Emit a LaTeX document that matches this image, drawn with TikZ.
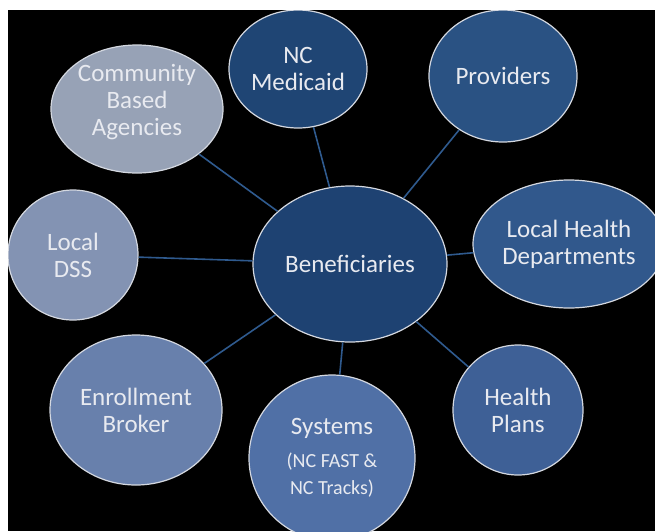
\documentclass[tikz,border=0pt]{standalone}
\usepackage{fontspec}
\setmainfont{Carlito}
\usetikzlibrary{shapes.geometric}

\definecolor{rimgray}{HTML}{D4D8E0}
\definecolor{labelwhite}{HTML}{E8EAF0}
\definecolor{linkblue}{HTML}{2F5A8E}
\definecolor{cbaFill}{HTML}{97A2B6}
\definecolor{ncmFill}{HTML}{1F4574}
\definecolor{provFill}{HTML}{2A5283}
\definecolor{benFill}{HTML}{1E4272}
\definecolor{lhdFill}{HTML}{31588C}
\definecolor{hpFill}{HTML}{3E6096}
\definecolor{sysFill}{HTML}{5070A6}
\definecolor{ebFill}{HTML}{6880AC}
\definecolor{dssFill}{HTML}{8393B3}

\newcommand{\smallline}{\fontsize{20}{25}\selectfont}

\begin{document}
\begin{tikzpicture}
      [ x=1pt, y=-1pt
      , bubble/.style={ellipse, draw=rimgray, line width=1.2pt, inner sep=0pt,
                       text=labelwhite, align=center,
                       font=\fontsize{25}{27}\selectfont}
      , link/.style={linkblue, draw, line width=1.6pt}
      ]
    \useasboundingbox (0,0) rectangle (655,531);
    \fill[white] (0,0) rectangle (655,531);
    \fill[black] (8,10) rectangle (655,531);
    \clip (8,10) rectangle (655,531);

    \node[bubble, fill=benFill, minimum width=194pt, minimum height=156pt] (B) at (350,264) {Beneficiaries};
    \node[bubble, fill=cbaFill, minimum width=172pt, minimum height=128pt] (CBA) at (137,109)
      {\raisebox{6pt}[\height][\depth]{\begin{tabular}{@{}c@{}}Community\\Based\\Agencies\end{tabular}}};
    \node[bubble, fill=ncmFill, minimum width=138pt, minimum height=118pt] (NCM) at (298,69) {NC\\Medicaid};
    \node[bubble, fill=provFill, minimum width=148pt, minimum height=132pt] (P) at (503,76) {Providers};
    \node[bubble, fill=lhdFill, minimum width=192pt, minimum height=128pt] (LHD) at (569,244) {Local Health\\Departments};
    \node[bubble, fill=hpFill, minimum width=130pt, minimum height=130pt] (HP) at (518,410) {Health\\Plans};
    \node[bubble, fill=sysFill, minimum width=166pt, minimum height=166pt] (S) at (332,458)
      {Systems\\[6pt]\smallline (NC FAST \&\\\smallline NC Tracks)};
    \node[bubble, fill=ebFill, minimum width=172pt, minimum height=150pt] (EB) at (136,410) {Enrollment\\Broker};
    \node[bubble, fill=dssFill, minimum width=130pt, minimum height=130pt] (DSS) at (73,255) {Local\\DSS};

    \draw[link]
    (B) edge (CBA)
    (B) edge (NCM)
    (B) edge (P)
    (B) edge (LHD)
    (B) edge (HP)
    (B) edge (S)
    (B) edge (EB)
    (B) edge (DSS);
\end{tikzpicture}
\end{document}
